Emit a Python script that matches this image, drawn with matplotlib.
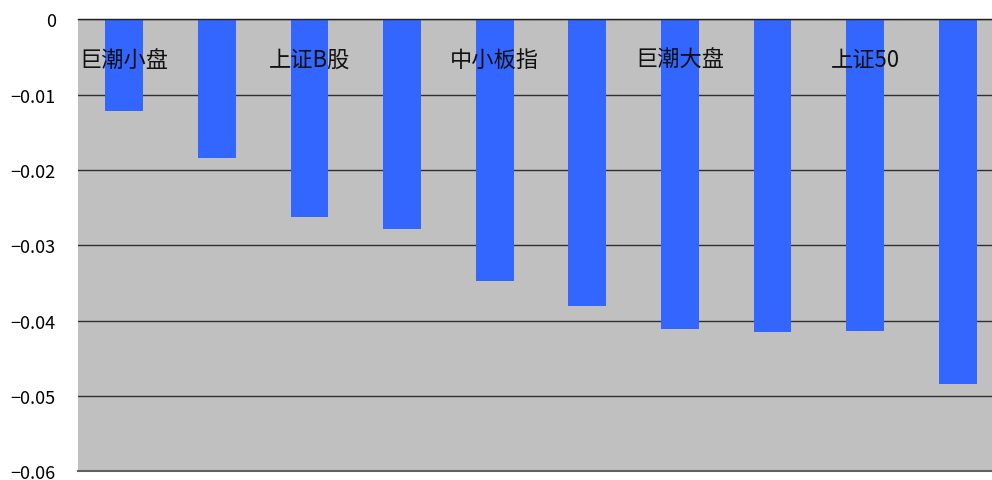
import matplotlib
matplotlib.use('Agg')
import numpy as np
import matplotlib.pyplot as plt
import matplotlib.transforms as mtransforms

plt.rcParams['font.family'] = ['Noto Sans CJK SC', 'DejaVu Sans']

# 数据
values = [-0.0122, -0.0184, -0.0262, -0.0279, -0.0348,
          -0.0380, -0.0411, -0.0415, -0.0414, -0.0484]
shown_labels = ['巨潮小盘', '上证B股', '中小板指', '巨潮大盘', '上证50']
y_ticks = [0, -0.01, -0.02, -0.03, -0.04, -0.05, -0.06]
y_tick_labels = ['0', '−0.01', '−0.02', '−0.03', '−0.04', '−0.05', '−0.06']

bar_color = '#3366FF'
bg_color = '#C0C0C0'

fig = plt.figure(figsize=(9.92, 4.81), dpi=100)
# 图表右侧被裁切，坐标区延伸到画布之外
ax = fig.add_axes([78 / 992, 8.7 / 481, 926 / 992, 452 / 481])
ax.set_facecolor(bg_color)

x = np.arange(len(values))
ax.bar(x, values, width=0.41, color=bar_color, zorder=2)

ax.set_xlim(-0.5, len(values) - 0.5)
ax.set_ylim(-0.06, 0)
ax.set_yticks(y_ticks)
ax.set_yticklabels(y_tick_labels, fontsize=13)
ax.yaxis.grid(True, color='#303030', linewidth=1, zorder=1)
ax.set_axisbelow(True)

# 类别标签每隔一个显示，位于零线下方、压在柱子上面
ax.set_xticks([])
trans = mtransforms.blended_transform_factory(ax.transData, ax.transAxes)
for i, lbl in zip(x[::2], shown_labels):
    ax.text(i, 0.912, lbl, transform=trans, ha='center', va='center',
            fontsize=16, color='#111111', zorder=5)
ax.tick_params(axis='y', length=0, pad=16)

for side in ['left', 'right']:
    ax.spines[side].set_visible(False)
ax.spines['top'].set_color('#202020')
ax.spines['top'].set_linewidth(1)
ax.spines['bottom'].set_color('#606060')
ax.spines['bottom'].set_linewidth(1.5)

fig.savefig('out.png', dpi=100, facecolor='white')
